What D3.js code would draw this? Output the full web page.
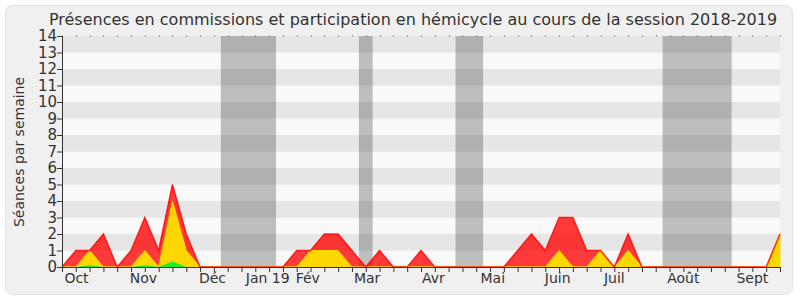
<!DOCTYPE html>
<html>
<head>
<meta charset="utf-8">
<script src="https://cdn.jsdelivr.net/npm/d3@7"></script>
<style>
  body { margin: 0; background: #fff; }
  text { font-family: "DejaVu Sans", sans-serif; fill: #333; }
</style>
</head>
<body>
<div id="chart-area"></div>
<script>
// weekly values, week 0 = end of Sept 2018 .. week 52 = Sept 2019
let commission = [0,1,1,2,0,1,3,1,5,2,0,0,0,0,0,0,0,1,1,2,2,1,0,1,0,0,1,0,0,0,0,0,0,1,2,1,3,3,1,1,0,2,0,0,0,0,0,0,0,0,0,0,2];
let hemicycle  = [0,0,1,0,0,0,1,0,4,1,0,0,0,0,0,0,0,0,1,1,1,0,0,0,0,0,0,0,0,0,0,0,0,0,0,0,1,0,0,1,0,1,0,0,0,0,0,0,0,0,0,0,2];
let interv     = [0,0,0.1,0,0,0,0.1,0,0.35,0,0,0,0,0,0,0,0,0,0,0,0,0,0,0,0,0,0,0,0,0,0,0,0,0,0,0,0,0,0,0,0,0,0,0,0,0,0,0,0,0,0,0,0];

// holiday periods (in weeks)
let vacances = [[11.5,15.5],[21.5,22.5],[28.5,30.5],[43.5,48.5]];

let monthLabels = ["Oct","Nov","Déc","Jan 19","Fév","Mar","Avr","Mai","Juin","Juil","Août","Sept"];
let monthPos    = [1.05,5.9,10.9,14.9,17.8,22.1,26.9,31.2,35.9,40.0,45.0,50.0];

let yTicks = d3.range(0, 15);

let width = 800, height = 300;
let margin = {top: 36, right: 20, bottom: 33, left: 62};

let svg = d3.select("#chart-area").append("svg")
  .attr("width", width)
  .attr("height", height);

// frame
svg.append("rect")
  .attr("x", 5.5).attr("y", 5.5)
  .attr("width", 787).attr("height", 289)
  .attr("rx", 7)
  .attr("fill", "#f0f0f0")
  .attr("stroke", "#e2e2e2");

let x = d3.scaleLinear()
  .domain([0, commission.length - 1])
  .range([margin.left, width - margin.right]);

let y = d3.scaleLinear()
  .domain([0, 14])
  .range([height - margin.bottom, margin.top]);

// striped background
svg.selectAll(".stripe")
  .data(d3.range(0, 14))
  .enter()
  .append("rect")
  .attr("class", "stripe")
  .attr("x", x(0))
  .attr("width", x(52) - x(0))
  .attr("y", d => y(d + 1))
  .attr("height", d => y(d) - y(d + 1))
  .attr("fill", d => d % 2 == 1 ? "#e6e6e6" : "#f9f9f9");

// holidays
svg.selectAll(".vac")
  .data(vacances)
  .enter()
  .append("rect")
  .attr("class", "vac")
  .attr("x", d => x(d[0]))
  .attr("width", d => x(d[1]) - x(d[0]))
  .attr("y", y(14))
  .attr("height", y(0) - y(14))
  .attr("fill", "rgba(0,0,0,0.235)");

let area = vals => d3.area()
  .x((d, i) => x(i))
  .y0(y(0))
  .y1(d => y(d))(vals);

let line = vals => d3.line()
  .x((d, i) => x(i))
  .y(d => y(d))(vals);

svg.append("path").attr("d", area(commission))
  .attr("fill", "rgba(255,0,0,0.77)");
svg.append("path").attr("d", area(hemicycle))
  .attr("fill", "#ffd700").attr("stroke", "#ffd700");
svg.append("path").attr("d", area(interv))
  .attr("fill", "#22ee22");
svg.append("path").attr("d", line(commission))
  .attr("fill", "none")
  .attr("stroke", "rgba(255,0,0,0.8)")
  .attr("stroke-width", 1.5);

// top dotted marks
svg.selectAll(".dot")
  .data(d3.range(0, 53))
  .enter()
  .append("rect")
  .attr("x", d => Math.round(x(d)))
  .attr("y", y(14) - 0.5)
  .attr("width", 1).attr("height", 1)
  .attr("fill", "#555");

// axes
let xAxis = d3.axisBottom(x)
  .tickValues(d3.range(0, 53))
  .tickSize(5)
  .tickFormat("");
svg.append("g")
  .attr("class", "axis x-axis")
  .attr("transform", "translate(0," + y(0) + ")")
  .call(xAxis)
  .call(g => g.selectAll("line,path").attr("stroke", "#333"));

svg.selectAll(".month")
  .data(monthLabels)
  .enter()
  .append("text")
  .attr("class", "month")
  .attr("x", (d, i) => x(monthPos[i]))
  .attr("y", 283)
  .attr("text-anchor", "middle")
  .style("font-size", "14px")
  .text(d => d);

let yAxis = d3.axisLeft(y)
  .tickValues(yTicks)
  .tickSize(5)
  .tickFormat(d3.format("d"));
svg.append("g")
  .attr("class", "axis y-axis")
  .attr("transform", "translate(" + x(0) + ",0)")
  .call(yAxis)
  .call(g => g.selectAll("line,path").attr("stroke", "#333"))
  .call(g => g.selectAll("text")
    .attr("x", -5)
    .style("font-size", "15px")
    .style("font-family", "DejaVu Sans, sans-serif")
    .attr("fill", "#333"));

svg.append("text")
  .attr("text-anchor", "middle")
  .attr("transform", "translate(24,152) rotate(-90)")
  .style("font-size", "14px")
  .text("Séances par semaine");

svg.append("text")
  .attr("x", 413)
  .attr("y", 25)
  .attr("text-anchor", "middle")
  .style("font-size", "16px")
  .text("Présences en commissions et participation en hémicycle au cours de la session 2018-2019");
</script>
</body>
</html>
